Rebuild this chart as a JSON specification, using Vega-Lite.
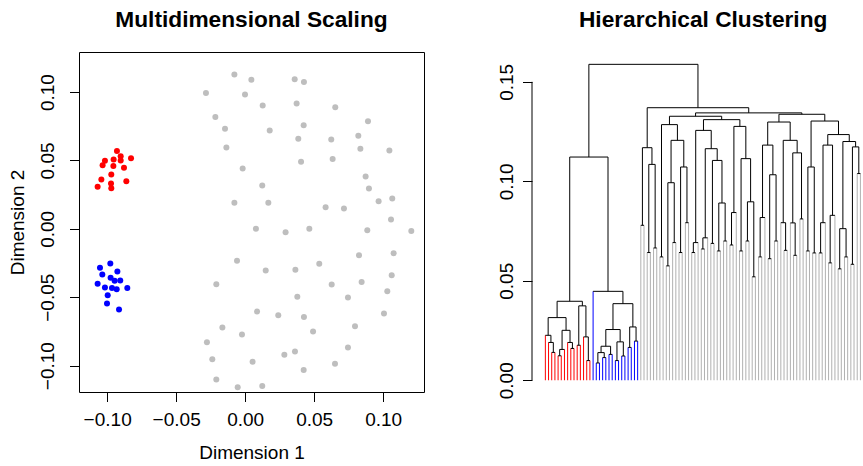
{
  "$schema": "https://vega.github.io/schema/vega-lite/v6.json",
  "padding": {"left": 8, "top": 8, "right": 0, "bottom": 0},
  "spacing": 72,
  "resolve": {"scale": {"color": "independent"}},
  "config": {
    "font": "Liberation Sans",
    "view": {"stroke": "black", "strokeWidth": 1},
    "axis": {"grid": false, "labelFont": "Liberation Sans", "labelFontSize": 19, "labelColor": "black", "titleFont": "Liberation Sans", "titleFontSize": 19, "titleFontWeight": "normal", "titleColor": "black", "tickColor": "black", "tickSize": 9.5, "tickWidth": 1, "domain": false, "labelFlush": false, "labelOverlap": false, "labelBound": false},
    "title": {"font": "Liberation Sans", "fontSize": 22.7, "fontWeight": "bold", "color": "black", "baseline": "alphabetic", "offset": 20, "frame": "group", "anchor": "middle"}
  },
  "hconcat": [
    {
      "width": 345,
      "height": 340,
      "title": {"text": "Multidimensional Scaling"},
      "data": {"values": [
        {"x": -0.0929, "y": 0.0570, "g": "red"}, {"x": -0.0902, "y": 0.0531, "g": "red"}, {"x": -0.0827, "y": 0.0516, "g": "red"},
        {"x": -0.1016, "y": 0.0497, "g": "red"}, {"x": -0.0953, "y": 0.0507, "g": "red"}, {"x": -0.0902, "y": 0.0499, "g": "red"},
        {"x": -0.1033, "y": 0.0465, "g": "red"}, {"x": -0.0955, "y": 0.0460, "g": "red"}, {"x": -0.0878, "y": 0.0446, "g": "red"},
        {"x": -0.0970, "y": 0.0397, "g": "red"}, {"x": -0.1042, "y": 0.0360, "g": "red"}, {"x": -0.0861, "y": 0.0348, "g": "red"},
        {"x": -0.0972, "y": 0.0331, "g": "red"}, {"x": -0.1069, "y": 0.0307, "g": "red"}, {"x": -0.0970, "y": 0.0297, "g": "red"},
        {"x": -0.0977, "y": -0.0254, "g": "blue"}, {"x": -0.1052, "y": -0.0285, "g": "blue"}, {"x": -0.0926, "y": -0.0312, "g": "blue"},
        {"x": -0.1035, "y": -0.0334, "g": "blue"}, {"x": -0.0975, "y": -0.0358, "g": "blue"}, {"x": -0.0946, "y": -0.0380, "g": "blue"},
        {"x": -0.0905, "y": -0.0378, "g": "blue"}, {"x": -0.1069, "y": -0.0402, "g": "blue"}, {"x": -0.1016, "y": -0.0429, "g": "blue"},
        {"x": -0.0965, "y": -0.0432, "g": "blue"}, {"x": -0.0931, "y": -0.0441, "g": "blue"}, {"x": -0.0854, "y": -0.0432, "g": "blue"},
        {"x": -0.0996, "y": -0.0485, "g": "blue"}, {"x": -0.1001, "y": -0.0546, "g": "blue"}, {"x": -0.0914, "y": -0.0590, "g": "blue"},
        {"x": -0.0078, "y": 0.1128, "g": "gray"}, {"x": 0.0045, "y": 0.1091, "g": "gray"}, {"x": 0.0359, "y": 0.1094, "g": "gray"},
        {"x": 0.0426, "y": 0.1074, "g": "gray"}, {"x": -0.0284, "y": 0.0994, "g": "gray"}, {"x": -0.0001, "y": 0.0982, "g": "gray"},
        {"x": 0.0127, "y": 0.0901, "g": "gray"}, {"x": 0.0373, "y": 0.0916, "g": "gray"}, {"x": 0.0653, "y": 0.0889, "g": "gray"},
        {"x": -0.0216, "y": 0.0818, "g": "gray"}, {"x": -0.0146, "y": 0.0731, "g": "gray"}, {"x": 0.0178, "y": 0.0719, "g": "gray"},
        {"x": 0.0424, "y": 0.0758, "g": "gray"}, {"x": 0.0890, "y": 0.0787, "g": "gray"}, {"x": -0.0136, "y": 0.0594, "g": "gray"},
        {"x": 0.0385, "y": 0.0658, "g": "gray"}, {"x": 0.0624, "y": 0.0653, "g": "gray"}, {"x": 0.0820, "y": 0.0680, "g": "gray"},
        {"x": 0.0835, "y": 0.0585, "g": "gray"}, {"x": 0.1045, "y": 0.0572, "g": "gray"}, {"x": 0.0405, "y": 0.0490, "g": "gray"},
        {"x": 0.0634, "y": 0.0511, "g": "gray"}, {"x": -0.0018, "y": 0.0441, "g": "gray"}, {"x": 0.0873, "y": 0.0382, "g": "gray"},
        {"x": 0.0897, "y": 0.0295, "g": "gray"}, {"x": 0.0124, "y": 0.0317, "g": "gray"}, {"x": -0.0078, "y": 0.0190, "g": "gray"},
        {"x": 0.0168, "y": 0.0190, "g": "gray"}, {"x": 0.0583, "y": 0.0158, "g": "gray"}, {"x": 0.0716, "y": 0.0148, "g": "gray"},
        {"x": 0.0967, "y": 0.0202, "g": "gray"}, {"x": 0.1066, "y": 0.0221, "g": "gray"}, {"x": 0.1057, "y": 0.0068, "g": "gray"},
        {"x": 0.0078, "y": 0.0000, "g": "gray"}, {"x": 0.0293, "y": -0.0025, "g": "gray"}, {"x": 0.0465, "y": 0.0000, "g": "gray"},
        {"x": 0.0885, "y": -0.0010, "g": "gray"}, {"x": 0.1204, "y": -0.0015, "g": "gray"}, {"x": 0.0825, "y": -0.0193, "g": "gray"},
        {"x": 0.1076, "y": -0.0178, "g": "gray"}, {"x": -0.0059, "y": -0.0234, "g": "gray"}, {"x": 0.0149, "y": -0.0305, "g": "gray"},
        {"x": 0.0364, "y": -0.0300, "g": "gray"}, {"x": 0.0537, "y": -0.0256, "g": "gray"}, {"x": -0.0209, "y": -0.0405, "g": "gray"},
        {"x": 0.0627, "y": -0.0407, "g": "gray"}, {"x": 0.0844, "y": -0.0388, "g": "gray"}, {"x": 0.1062, "y": -0.0339, "g": "gray"},
        {"x": 0.1030, "y": -0.0456, "g": "gray"}, {"x": 0.0378, "y": -0.0497, "g": "gray"}, {"x": 0.0745, "y": -0.0502, "g": "gray"},
        {"x": 0.0086, "y": -0.0605, "g": "gray"}, {"x": 0.0240, "y": -0.0631, "g": "gray"}, {"x": 0.0426, "y": -0.0644, "g": "gray"},
        {"x": 0.1006, "y": -0.0619, "g": "gray"}, {"x": -0.0165, "y": -0.0721, "g": "gray"}, {"x": -0.0023, "y": -0.0773, "g": "gray"},
        {"x": 0.0492, "y": -0.0751, "g": "gray"}, {"x": 0.0796, "y": -0.0712, "g": "gray"}, {"x": -0.0277, "y": -0.0829, "g": "gray"},
        {"x": 0.0745, "y": -0.0868, "g": "gray"}, {"x": -0.0238, "y": -0.0953, "g": "gray"}, {"x": 0.0054, "y": -0.0972, "g": "gray"},
        {"x": 0.0284, "y": -0.0921, "g": "gray"}, {"x": 0.0361, "y": -0.0897, "g": "gray"}, {"x": 0.0651, "y": -0.0987, "g": "gray"},
        {"x": 0.0424, "y": -0.1033, "g": "gray"}, {"x": -0.0209, "y": -0.1102, "g": "gray"}, {"x": -0.0054, "y": -0.1158, "g": "gray"},
        {"x": 0.0124, "y": -0.1150, "g": "gray"}
      ]},
      "mark": {"type": "circle", "size": 36, "opacity": 1},
      "encoding": {
        "x": {"field": "x", "type": "quantitative",
              "scale": {"domain": [-0.1204, 0.1296], "nice": false, "zero": false},
              "axis": {"title": "Dimension 1", "values": [-0.1, -0.05, 0, 0.05, 0.1], "format": ".2f", "labelPadding": 8.5, "titleBaseline": "alphabetic", "titleY": 66.5}},
        "y": {"field": "y", "type": "quantitative",
              "scale": {"domain": [-0.1193, 0.1293], "nice": false, "zero": false},
              "axis": {"title": "Dimension 2", "values": [-0.1, -0.05, 0, 0.05, 0.1], "format": ".2f", "labelAngle": -90, "labelAlign": "center", "labelBaseline": "alphabetic", "labelPadding": 15.8, "titleAngle": -90, "titleAlign": "center", "titleBaseline": "alphabetic", "titleX": -55.5, "titleY": 170}},
        "color": {"field": "g", "type": "nominal", "scale": {"domain": ["gray", "red", "blue"], "range": ["#BEBEBE", "#FF0000", "#0000FF"]}, "legend": null}
      }
    },
    {
      "width": 330.3,
      "height": 340,
      "view": {"stroke": null},
      "title": {"text": "Hierarchical Clustering", "dx": 6},
      "data": {"values": [
        {"xl": 3, "hl": 0, "cl": "red", "xr": 4, "hr": 0, "cr": "red", "h": 0.0140},
        {"xl": 2, "hl": 0, "cl": "red", "xr": 3.5, "hr": 0.0140, "cr": "k", "h": 0.0190},
        {"xl": 1, "hl": 0, "cl": "red", "xr": 2.75, "hr": 0.0190, "cr": "k", "h": 0.0226},
        {"xl": 5, "hl": 0, "cl": "red", "xr": 6, "hr": 0, "cr": "red", "h": 0.0123},
        {"xl": 5.5, "hl": 0.0123, "cl": "k", "xr": 7, "hr": 0, "cr": "red", "h": 0.0155},
        {"xl": 9, "hl": 0, "cl": "red", "xr": 10, "hr": 0, "cr": "red", "h": 0.0160},
        {"xl": 8, "hl": 0, "cl": "red", "xr": 9.5, "hr": 0.0160, "cr": "k", "h": 0.0190},
        {"xl": 6.25, "hl": 0.0155, "cl": "k", "xr": 8.75, "hr": 0.0190, "cr": "k", "h": 0.0251},
        {"xl": 1.875, "hl": 0.0226, "cl": "k", "xr": 7.5, "hr": 0.0251, "cr": "k", "h": 0.0315},
        {"xl": 11, "hl": 0, "cl": "red", "xr": 12, "hr": 0, "cr": "red", "h": 0.0176},
        {"xl": 14, "hl": 0, "cl": "red", "xr": 15, "hr": 0, "cr": "red", "h": 0.0099},
        {"xl": 13, "hl": 0, "cl": "red", "xr": 14.5, "hr": 0.0099, "cr": "k", "h": 0.0218},
        {"xl": 11.5, "hl": 0.0176, "cl": "k", "xr": 13.75, "hr": 0.0218, "cr": "k", "h": 0.0374},
        {"xl": 4.6875, "hl": 0.0315, "cl": "k", "xr": 12.625, "hr": 0.0374, "cr": "k", "h": 0.0397},
        {"xl": 17, "hl": 0, "cl": "blue", "xr": 18, "hr": 0, "cr": "blue", "h": 0.0087},
        {"xl": 19, "hl": 0, "cl": "blue", "xr": 20, "hr": 0, "cr": "blue", "h": 0.0114},
        {"xl": 17.5, "hl": 0.0087, "cl": "k", "xr": 19.5, "hr": 0.0114, "cr": "k", "h": 0.0139},
        {"xl": 21, "hl": 0, "cl": "blue", "xr": 22, "hr": 0, "cr": "blue", "h": 0.0130},
        {"xl": 18.5, "hl": 0.0139, "cl": "k", "xr": 21.5, "hr": 0.0130, "cr": "k", "h": 0.0171},
        {"xl": 23, "hl": 0, "cl": "blue", "xr": 24, "hr": 0, "cr": "blue", "h": 0.0099},
        {"xl": 25, "hl": 0, "cl": "blue", "xr": 26, "hr": 0, "cr": "blue", "h": 0.0122},
        {"xl": 23.5, "hl": 0.0099, "cl": "k", "xr": 25.5, "hr": 0.0122, "cr": "k", "h": 0.0193},
        {"xl": 20, "hl": 0.0171, "cl": "k", "xr": 24.5, "hr": 0.0193, "cr": "k", "h": 0.0255},
        {"xl": 27, "hl": 0, "cl": "blue", "xr": 28, "hr": 0, "cr": "blue", "h": 0.0165},
        {"xl": 29, "hl": 0, "cl": "blue", "xr": 30, "hr": 0, "cr": "blue", "h": 0.0197},
        {"xl": 27.5, "hl": 0.0165, "cl": "k", "xr": 29.5, "hr": 0.0197, "cr": "k", "h": 0.0268},
        {"xl": 22.25, "hl": 0.0255, "cl": "k", "xr": 28.5, "hr": 0.0268, "cr": "k", "h": 0.0385},
        {"xl": 16, "hl": 0, "cl": "blue", "xr": 25.375, "hr": 0.0385, "cr": "k", "h": 0.0447},
        {"xl": 8.65625, "hl": 0.0397, "cl": "k", "xr": 20.6875, "hr": 0.0447, "cr": "k", "h": 0.1122},
        {"xl": 31, "hl": 0, "cl": "gray", "xr": 32, "hr": 0, "cr": "gray", "h": 0.0779},
        {"xl": 33, "hl": 0, "cl": "gray", "xr": 34, "hr": 0, "cr": "gray", "h": 0.0642},
        {"xl": 35, "hl": 0, "cl": "gray", "xr": 36, "hr": 0, "cr": "gray", "h": 0.0665},
        {"xl": 33.5, "hl": 0.0642, "cl": "k", "xr": 35.5, "hr": 0.0665, "cr": "k", "h": 0.1085},
        {"xl": 31.5, "hl": 0.0779, "cl": "k", "xr": 34.5, "hr": 0.1085, "cr": "k", "h": 0.1169},
        {"xl": 37, "hl": 0, "cl": "gray", "xr": 38, "hr": 0, "cr": "gray", "h": 0.0620},
        {"xl": 39, "hl": 0, "cl": "gray", "xr": 40, "hr": 0, "cr": "gray", "h": 0.0575},
        {"xl": 41, "hl": 0, "cl": "gray", "xr": 42, "hr": 0, "cr": "gray", "h": 0.0692},
        {"xl": 39.5, "hl": 0.0575, "cl": "k", "xr": 41.5, "hr": 0.0692, "cr": "k", "h": 0.0993},
        {"xl": 43, "hl": 0, "cl": "gray", "xr": 44, "hr": 0, "cr": "gray", "h": 0.0642},
        {"xl": 45, "hl": 0, "cl": "gray", "xr": 46, "hr": 0, "cr": "gray", "h": 0.0792},
        {"xl": 43.5, "hl": 0.0642, "cl": "k", "xr": 45.5, "hr": 0.0792, "cr": "k", "h": 0.1072},
        {"xl": 40.5, "hl": 0.0993, "cl": "k", "xr": 44.5, "hr": 0.1072, "cr": "k", "h": 0.1206},
        {"xl": 37.5, "hl": 0.0620, "cl": "k", "xr": 42.5, "hr": 0.1206, "cr": "k", "h": 0.1285},
        {"xl": 47, "hl": 0, "cl": "gray", "xr": 48, "hr": 0, "cr": "gray", "h": 0.0642},
        {"xl": 47.5, "hl": 0.0642, "cl": "k", "xr": 49, "hr": 0, "cr": "gray", "h": 0.0692},
        {"xl": 50, "hl": 0, "cl": "gray", "xr": 51, "hr": 0, "cr": "gray", "h": 0.0660},
        {"xl": 50.5, "hl": 0.0660, "cl": "k", "xr": 52, "hr": 0, "cr": "gray", "h": 0.0716},
        {"xl": 53, "hl": 0, "cl": "gray", "xr": 54, "hr": 0, "cr": "gray", "h": 0.0688},
        {"xl": 55, "hl": 0, "cl": "gray", "xr": 56, "hr": 0, "cr": "gray", "h": 0.0650},
        {"xl": 57, "hl": 0, "cl": "gray", "xr": 58, "hr": 0, "cr": "gray", "h": 0.0700},
        {"xl": 55.5, "hl": 0.0650, "cl": "k", "xr": 57.5, "hr": 0.0700, "cr": "k", "h": 0.0891},
        {"xl": 53.5, "hl": 0.0688, "cl": "k", "xr": 56.5, "hr": 0.0891, "cr": "k", "h": 0.1105},
        {"xl": 51.25, "hl": 0.0716, "cl": "k", "xr": 55, "hr": 0.1105, "cr": "k", "h": 0.1164},
        {"xl": 48.25, "hl": 0.0692, "cl": "k", "xr": 53.125, "hr": 0.1164, "cr": "k", "h": 0.1256},
        {"xl": 59, "hl": 0, "cl": "gray", "xr": 60, "hr": 0, "cr": "gray", "h": 0.0680},
        {"xl": 59.5, "hl": 0.0680, "cl": "k", "xr": 61, "hr": 0, "cr": "gray", "h": 0.0843},
        {"xl": 62, "hl": 0, "cl": "gray", "xr": 63, "hr": 0, "cr": "gray", "h": 0.0650},
        {"xl": 64, "hl": 0, "cl": "gray", "xr": 65, "hr": 0, "cr": "gray", "h": 0.0700},
        {"xl": 66, "hl": 0, "cl": "gray", "xr": 67, "hr": 0, "cr": "gray", "h": 0.0520},
        {"xl": 64.5, "hl": 0.0700, "cl": "k", "xr": 66.5, "hr": 0.0520, "cr": "k", "h": 0.0897},
        {"xl": 62.5, "hl": 0.0650, "cl": "k", "xr": 65.5, "hr": 0.0897, "cr": "k", "h": 0.1114},
        {"xl": 60.25, "hl": 0.0843, "cl": "k", "xr": 64, "hr": 0.1114, "cr": "k", "h": 0.1276},
        {"xl": 50.6875, "hl": 0.1256, "cl": "k", "xr": 62.125, "hr": 0.1276, "cr": "k", "h": 0.1310},
        {"xl": 40, "hl": 0.1285, "cl": "k", "xr": 56.40625, "hr": 0.1310, "cr": "k", "h": 0.1327},
        {"xl": 68, "hl": 0, "cl": "gray", "xr": 69, "hr": 0, "cr": "gray", "h": 0.0620},
        {"xl": 68.5, "hl": 0.0620, "cl": "k", "xr": 70, "hr": 0, "cr": "gray", "h": 0.0818},
        {"xl": 71, "hl": 0, "cl": "gray", "xr": 72, "hr": 0, "cr": "gray", "h": 0.0611},
        {"xl": 73, "hl": 0, "cl": "gray", "xr": 74, "hr": 0, "cr": "gray", "h": 0.0700},
        {"xl": 71.5, "hl": 0.0611, "cl": "k", "xr": 73.5, "hr": 0.0700, "cr": "k", "h": 0.1033},
        {"xl": 69.25, "hl": 0.0818, "cl": "k", "xr": 72.5, "hr": 0.1033, "cr": "k", "h": 0.1182},
        {"xl": 76, "hl": 0, "cl": "gray", "xr": 77, "hr": 0, "cr": "gray", "h": 0.0653},
        {"xl": 75, "hl": 0, "cl": "gray", "xr": 76.5, "hr": 0.0653, "cr": "k", "h": 0.0792},
        {"xl": 79, "hl": 0, "cl": "gray", "xr": 80, "hr": 0, "cr": "gray", "h": 0.0628},
        {"xl": 78, "hl": 0, "cl": "gray", "xr": 79.5, "hr": 0.0628, "cr": "k", "h": 0.0791},
        {"xl": 81, "hl": 0, "cl": "gray", "xr": 82, "hr": 0, "cr": "gray", "h": 0.0811},
        {"xl": 78.75, "hl": 0.0791, "cl": "k", "xr": 81.5, "hr": 0.0811, "cr": "k", "h": 0.1143},
        {"xl": 75.75, "hl": 0.0792, "cl": "k", "xr": 80.125, "hr": 0.1143, "cr": "k", "h": 0.1206},
        {"xl": 70.875, "hl": 0.1182, "cl": "k", "xr": 77.9375, "hr": 0.1206, "cr": "k", "h": 0.1298},
        {"xl": 83, "hl": 0, "cl": "gray", "xr": 84, "hr": 0, "cr": "gray", "h": 0.0650},
        {"xl": 85, "hl": 0, "cl": "gray", "xr": 86, "hr": 0, "cr": "gray", "h": 0.0640},
        {"xl": 83.5, "hl": 0.0650, "cl": "k", "xr": 85.5, "hr": 0.0640, "cr": "k", "h": 0.1072},
        {"xl": 87, "hl": 0, "cl": "gray", "xr": 88, "hr": 0, "cr": "gray", "h": 0.0640},
        {"xl": 87.5, "hl": 0.0640, "cl": "k", "xr": 89, "hr": 0, "cr": "gray", "h": 0.0792},
        {"xl": 90, "hl": 0, "cl": "gray", "xr": 91, "hr": 0, "cr": "gray", "h": 0.0590},
        {"xl": 90.5, "hl": 0.0590, "cl": "k", "xr": 92, "hr": 0, "cr": "gray", "h": 0.0829},
        {"xl": 88.25, "hl": 0.0792, "cl": "k", "xr": 91.25, "hr": 0.0829, "cr": "k", "h": 0.1182},
        {"xl": 93, "hl": 0, "cl": "gray", "xr": 94, "hr": 0, "cr": "gray", "h": 0.0560},
        {"xl": 95, "hl": 0, "cl": "gray", "xr": 96, "hr": 0, "cr": "gray", "h": 0.0620},
        {"xl": 93.5, "hl": 0.0560, "cl": "k", "xr": 95.5, "hr": 0.0620, "cr": "k", "h": 0.0762},
        {"xl": 97, "hl": 0, "cl": "gray", "xr": 98, "hr": 0, "cr": "gray", "h": 0.0583},
        {"xl": 99, "hl": 0, "cl": "gray", "xr": 100, "hr": 0, "cr": "gray", "h": 0.1039},
        {"xl": 97.5, "hl": 0.0583, "cl": "k", "xr": 99.5, "hr": 0.1039, "cr": "k", "h": 0.1173},
        {"xl": 94.5, "hl": 0.0762, "cl": "k", "xr": 98.5, "hr": 0.1173, "cr": "k", "h": 0.1200},
        {"xl": 89.75, "hl": 0.1182, "cl": "k", "xr": 96.5, "hr": 0.1200, "cr": "k", "h": 0.1235},
        {"xl": 84.5, "hl": 0.1072, "cl": "k", "xr": 93.125, "hr": 0.1235, "cr": "k", "h": 0.1303},
        {"xl": 74.40625, "hl": 0.1298, "cl": "k", "xr": 88.8125, "hr": 0.1303, "cr": "k", "h": 0.1337},
        {"xl": 48.203125, "hl": 0.1327, "cl": "k", "xr": 81.609375, "hr": 0.1337, "cr": "k", "h": 0.1344},
        {"xl": 33, "hl": 0.1169, "cl": "k", "xr": 64.90625, "hr": 0.1344, "cr": "k", "h": 0.1370},
        {"xl": 14.671875, "hl": 0.1122, "cl": "k", "xr": 48.953125, "hr": 0.1370, "cr": "k", "h": 0.1588}
      ]},
      "layer": [
        {
          "mark": {"type": "rule", "strokeWidth": 1},
          "encoding": {
            "x": {"field": "xl", "type": "quantitative", "scale": {"domain": [-3.2, 100.6], "nice": false, "zero": false}, "axis": null},
            "y": {"field": "hl", "type": "quantitative", "scale": {"domain": [-0.0059, 0.165], "nice": false, "zero": false},
                  "axis": {"title": null, "values": [0, 0.05, 0.1, 0.15], "format": ".2f", "labelAngle": -90, "labelAlign": "center", "labelBaseline": "alphabetic", "labelPadding": 9.9}},
            "y2": {"field": "h"},
            "color": {"field": "cl", "type": "nominal", "scale": {"domain": ["red", "blue", "gray", "k"], "range": ["#FF0000", "#0000FF", "#B0B0B0", "#000000"]}, "legend": null}
          }
        },
        {
          "mark": {"type": "rule", "strokeWidth": 1},
          "encoding": {
            "x": {"field": "xr", "type": "quantitative", "title": null},
            "y": {"field": "hr", "type": "quantitative", "title": null},
            "y2": {"field": "h"},
            "color": {"field": "cr", "type": "nominal", "legend": null}
          }
        },
        {
          "mark": {"type": "rule", "strokeWidth": 1, "color": "black"},
          "encoding": {
            "x": {"field": "xl", "type": "quantitative", "title": null},
            "x2": {"field": "xr"},
            "y": {"field": "h", "type": "quantitative", "title": null}
          }
        },
        {
          "data": {"values": [{"a": -3.2, "b0": 0, "b1": 0.15}]},
          "mark": {"type": "rule", "strokeWidth": 1, "color": "black"},
          "encoding": {
            "x": {"field": "a", "type": "quantitative", "title": null},
            "y": {"field": "b0", "type": "quantitative", "title": null},
            "y2": {"field": "b1"}
          }
        }
      ]
    }
  ]
}
